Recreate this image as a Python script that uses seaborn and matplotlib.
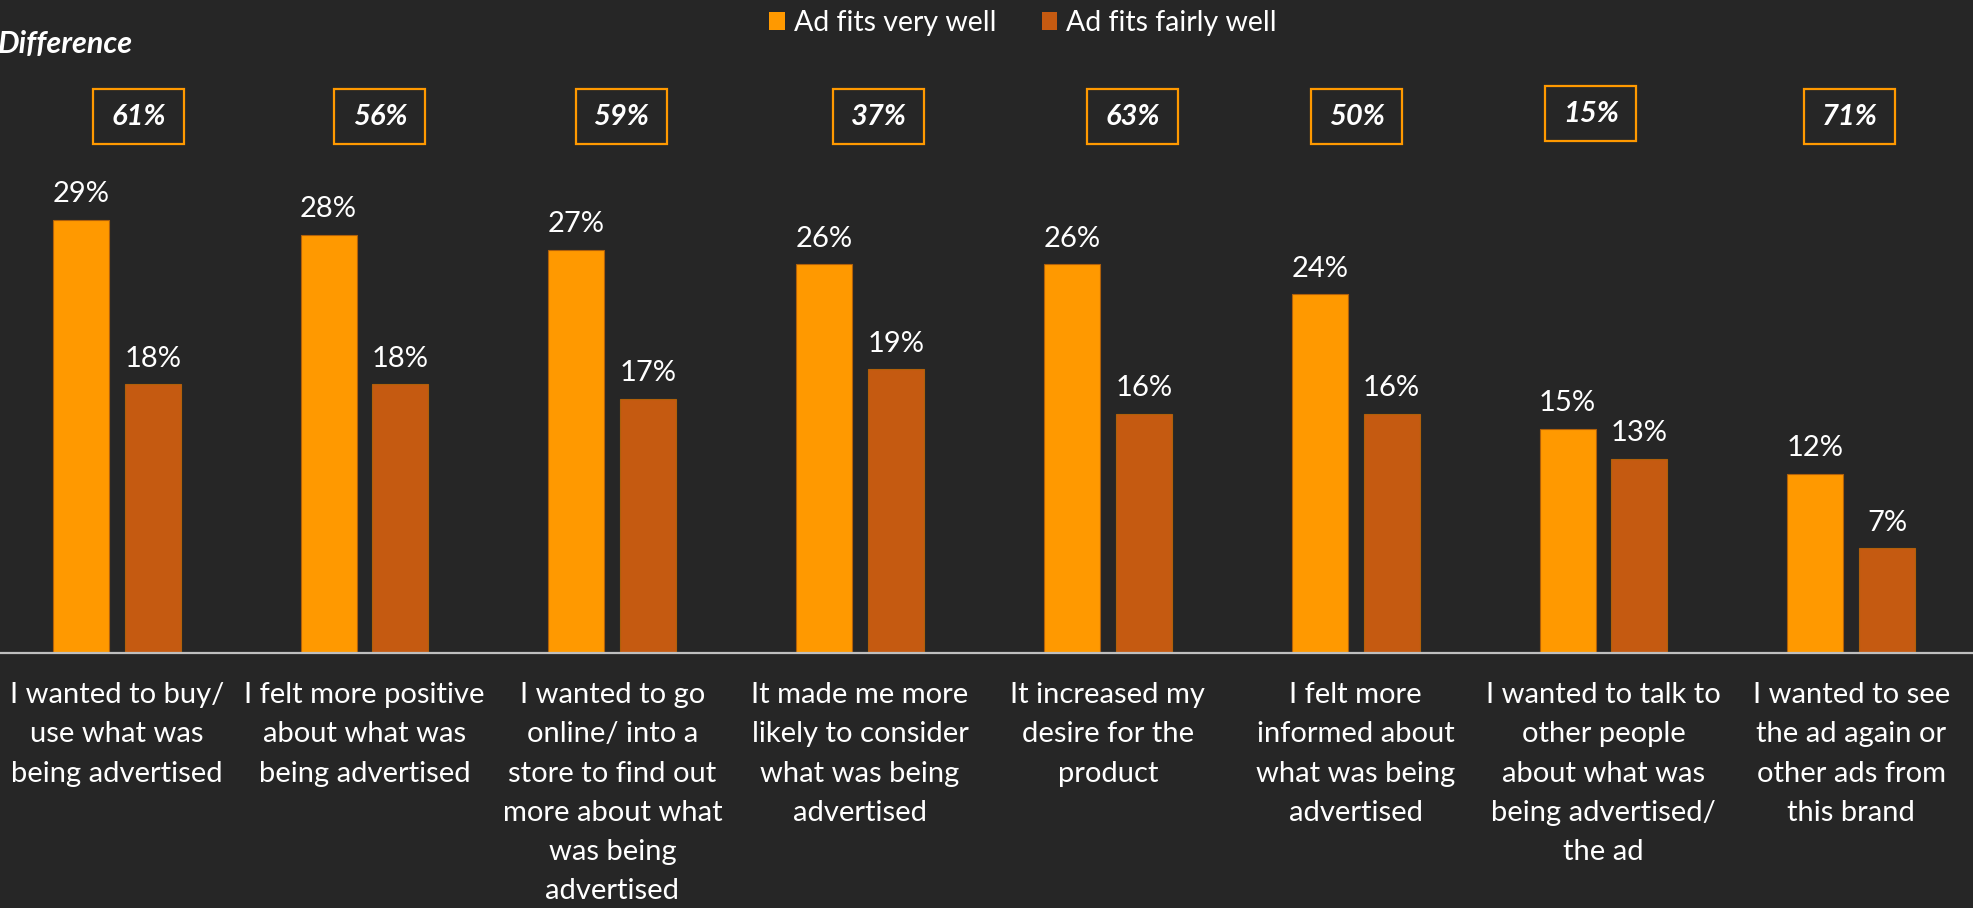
import matplotlib
matplotlib.use("Agg")
import matplotlib.pyplot as plt
from matplotlib.patches import Patch, Rectangle
import pandas as pd
import seaborn as sns

# Survey statements (x-axis categories)
categories = [
    "I wanted to buy/\nuse what was\nbeing advertised",
    "I felt more positive\nabout what was\nbeing advertised",
    "I wanted to go\nonline/ into a\nstore to find out\nmore about what\nwas being\nadvertised",
    "It made me more\nlikely to consider\nwhat was being\nadvertised",
    "It increased my\ndesire for the\nproduct",
    "I felt more\ninformed about\nwhat was being\nadvertised",
    "I wanted to talk to\nother people\nabout what was\nbeing advertised/\nthe ad",
    "I wanted to see\nthe ad again or\nother ads from\nthis brand",
]
series_names = ["Ad fits very well", "Ad fits fairly well"]
very_well = [29, 28, 27, 26, 26, 24, 15, 12]
fairly_well = [18, 18, 17, 19, 16, 16, 13, 7]
difference = [61, 56, 59, 37, 63, 50, 15, 71]

BG = "#262626"
ORANGE = "#FF9900"
BROWN = "#C55A11"
FONT = ["Lato", "DejaVu Sans"]

sns.set_theme(style="dark")
plt.rcParams["font.family"] = FONT
plt.rcParams["axes.facecolor"] = BG
plt.rcParams["figure.facecolor"] = BG

df = pd.DataFrame({
    "statement": categories * 2,
    "series": [series_names[0]] * len(categories) + [series_names[1]] * len(categories),
    "value": very_well + fairly_well,
})

fig = plt.figure(figsize=(19.73, 9.08), dpi=100)
ax = fig.add_axes([0, 1 - 653 / 908, 1, 653 / 908])

sns.barplot(
    data=df, x="statement", y="value", hue="series",
    order=categories, hue_order=series_names,
    palette=[ORANGE, BROWN], saturation=1,
    width=0.58, gap=0.22, dodge=True, legend=False,
    edgecolor="#B0600A", linewidth=0.8, ax=ax, errorbar=None,
)

ax.set_xlim(-0.471, 7.491)
ax.set_ylim(0, 43.7)
ax.set_xlabel("")
ax.set_ylabel("")
ax.set_yticks([])
ax.grid(False)
for side in ["top", "left", "right"]:
    ax.spines[side].set_visible(False)
ax.spines["bottom"].set_color("#BFBFBF")
ax.spines["bottom"].set_linewidth(1.6)

ax.set_xticks(range(len(categories)))
ax.set_xticklabels(categories, fontsize=21, color="white", linespacing=1.63)
ax.tick_params(axis="x", length=0, pad=21)

# Value labels above each bar
for cont in ax.containers:
    ax.bar_label(cont, fmt="{:.0f}%", padding=9, fontsize=21, color="white")

# "Difference" boxes above each group
box_nudge = [0.088, 0.062, 0.037, 0.076, 0.10, 0.005, -0.051, -0.006]
box_y = [35.9, 35.9, 35.9, 35.9, 35.9, 35.9, 36.1, 35.9]
bw, bh = 0.367, 3.68
for i, d in enumerate(difference):
    cx = i + box_nudge[i]
    cy = box_y[i]
    ax.add_patch(Rectangle((cx - bw / 2, cy - bh / 2), bw, bh, fill=False,
                           edgecolor=ORANGE, linewidth=1.6, clip_on=False))
    ax.text(cx, cy, f"{d}%", ha="center", va="center", fontsize=21,
            fontweight="bold", fontstyle="italic", color="white")

fig.text(-0.001, 1 - 44 / 908, "Difference", ha="left", va="center", fontsize=22,
         fontweight="bold", fontstyle="italic", color="white")

handles = [Patch(facecolor=ORANGE, edgecolor="none"), Patch(facecolor=BROWN, edgecolor="none")]
fig.legend(handles, series_names, loc="center", bbox_to_anchor=(0.5185, 1 - 23 / 908),
           ncol=2, frameon=False, fontsize=20.5, labelcolor="white",
           handlelength=0.55, handleheight=0.55, handletextpad=0.3, columnspacing=1.6)

fig.savefig("out.png", dpi=100, facecolor=BG)
